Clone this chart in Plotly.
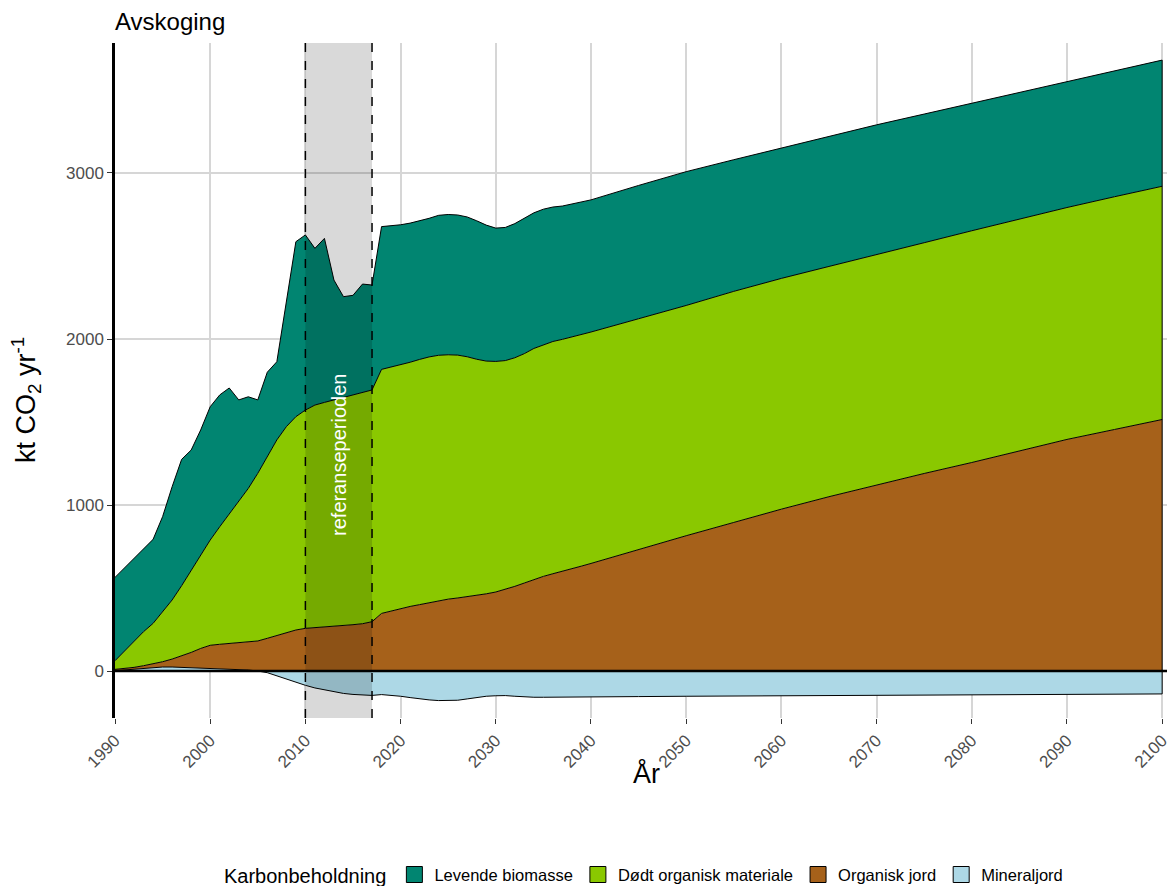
import plotly.graph_objects as go

# Avskoging – karbonbeholdning (kt CO2 per år), lest av figuren
years = list(range(1990, 2041)) + list(range(2045, 2101, 5))

levende_biomasse = [
    502, 501, 502, 499, 506, 573, 682, 761, 723, 753,
    803, 794, 761, 613, 552, 442, 509, 471, 758, 1054,
    1055, 944, 988, 722, 606, 600, 654, 632, 860, 852,
    843, 838, 834, 835, 843, 845, 844, 842, 834, 819,
    803, 802, 808, 818, 817, 817, 810, 803, 800, 798,
    796, 803, 806, 793, 785, 783, 783, 775, 768, 763,
    758, 758, 760,
]
dodt_organisk = [
    52, 106, 155, 205, 245, 301, 356, 424, 496, 563,
    634, 708, 779, 851, 925, 1010, 1094, 1179, 1239, 1285,
    1315, 1341, 1355, 1366, 1376, 1384, 1392, 1396, 1470, 1468,
    1467, 1471, 1477, 1480, 1478, 1472, 1463, 1446, 1423, 1402,
    1389, 1378, 1377, 1382, 1391, 1395, 1399, 1398, 1396, 1395,
    1394, 1390, 1387, 1392, 1390, 1387, 1385, 1390, 1396, 1397,
    1397, 1402, 1405,
]
organisk_jord = [
    8, 8, 10, 14, 20, 32, 48, 68, 92, 118,
    139, 147, 153, 159, 169, 181, 197, 213, 233, 247,
    257, 261, 263, 267, 273, 279, 285, 297, 347, 362,
    378, 389, 400, 412, 424, 433, 440, 447, 455, 465,
    476, 492, 510, 530, 552, 570, 586, 600, 616, 632,
    648, 732, 815, 895, 975, 1050, 1122, 1190, 1256, 1325,
    1395, 1455, 1515,
]
mineraljord = [
    2, 6, 12, 18, 22, 24, 24, 22, 20, 18,
    16, 14, 12, 10, 6, 0, -10, -30, -50, -70,
    -86, -102, -114, -126, -135, -141, -145, -147, -142, -145,
    -152, -160, -168, -174, -178, -178, -176, -168, -160, -152,
    -149, -148, -152, -156, -158, -158, -158, -157, -157, -156,
    -155, -154, -152, -151, -150, -149, -148, -146, -145, -144,
    -142, -140, -138,
]

ref_start, ref_end = 2010, 2017

colors = {
    "Levende biomasse": "#018571",
    "Dødt organisk materiale": "#8AC800",
    "Organisk jord": "#A6611A",
    "Mineraljord": "#ADD8E6",
}

font = "Arial, Liberation Sans, sans-serif"
fig = go.Figure()

# mineraljord: positiv del stables under de andre, negativ del for seg
min_pos = [max(v, 0) for v in mineraljord]
min_neg = [min(v, 0) for v in mineraljord]

fig.add_trace(go.Scatter(x=years, y=min_pos, stackgroup="pos", mode="lines",
                         line=dict(color="black", width=1), fillcolor=colors["Mineraljord"],
                         showlegend=False, hoverinfo="skip"))
fig.add_trace(go.Scatter(x=years, y=min_neg, stackgroup="neg", mode="lines",
                         line=dict(color="black", width=1), fillcolor=colors["Mineraljord"],
                         showlegend=False, name="Mineraljord"))
for name, vals in [("Organisk jord", organisk_jord),
                   ("Dødt organisk materiale", dodt_organisk),
                   ("Levende biomasse", levende_biomasse)]:
    fig.add_trace(go.Scatter(x=years, y=vals, stackgroup="pos", mode="lines",
                             line=dict(color="black", width=1), fillcolor=colors[name],
                             showlegend=False, name=name))

# høyre kant av arealet
topp = [a + b + c + d for a, b, c, d in zip(min_pos, organisk_jord, dodt_organisk, levende_biomasse)]
fig.add_trace(go.Scatter(x=[years[-1], years[-1]], y=[min_neg[-1], topp[-1]], mode="lines",
                         line=dict(color="black", width=1), showlegend=False, hoverinfo="skip"))

# legend-elementer (firkanter)
for name in ["Levende biomasse", "Dødt organisk materiale", "Organisk jord", "Mineraljord"]:
    fig.add_trace(go.Scatter(x=[None], y=[None], mode="markers", name=name,
                             marker=dict(symbol="square", size=16, color=colors[name],
                                         line=dict(color="black", width=1))))

# referanseperioden
fig.add_vrect(x0=ref_start, x1=ref_end, fillcolor="rgba(0,0,0,0.15)", line_width=0, layer="above")
for xv in (ref_start, ref_end):
    fig.add_vline(x=xv, line=dict(color="black", width=1.5, dash="dash"), layer="above")
fig.add_annotation(x=(ref_start + ref_end) / 2, y=1300, text="referanseperioden", textangle=-90,
                   showarrow=False, font=dict(color="white", size=20, family=font))

# nulllinje
fig.add_hline(y=0, line=dict(color="black", width=2.5), layer="above")

# aksetitler
fig.add_annotation(x=-0.084, y=0.471, xref="paper", yref="paper", textangle=-90,
                   text="kt CO<sub>2</sub> yr<sup>-1</sup>", showarrow=False,
                   xanchor="center", yanchor="middle", font=dict(size=27, family=font))
fig.add_annotation(x=0.501, y=-0.082, xref="paper", yref="paper", text="År", showarrow=False,
                   xanchor="center", yanchor="middle", font=dict(size=27, family=font))

fig.update_layout(
    width=1167, height=878,
    margin=dict(l=107, r=0, t=35, b=168, autoexpand=False),
    plot_bgcolor="white", paper_bgcolor="white",
    font=dict(family=font, color="black"),
    title=dict(text="Avskoging", x=107 / 1167, xanchor="left", xref="container",
               y=1 - 14 / 878, yanchor="middle", yref="container",
               font=dict(size=24, color="black")),
    legend=dict(orientation="h", x=0.5, xanchor="center", y=-0.233, yanchor="middle",
                title=dict(text="Karbonbeholdning", side="left", font=dict(size=20)),
                font=dict(size=16.5), itemsizing="trace", traceorder="normal"),
    showlegend=True,
)
fig.update_xaxes(range=[1990, 2101.35], tickvals=list(range(1990, 2101, 10)), tickangle=-45,
                 showgrid=True, gridcolor="#D6D6D6", gridwidth=1.5, zeroline=False,
                 ticks="outside", ticklen=5, tickcolor="#333333", automargin=False,
                 tickfont=dict(size=17, color="#4D4D4D"))
fig.update_yaxes(range=[-283, 3783], tickvals=[0, 1000, 2000, 3000],
                 showgrid=True, gridcolor="#D6D6D6", gridwidth=1.5, zeroline=False,
                 showline=True, linecolor="black", linewidth=2.5, layer="above traces",
                 ticks="outside", ticklen=5, tickcolor="#333333", automargin=False,
                 tickfont=dict(size=17, color="#4D4D4D"))

fig.write_html("out.html")
